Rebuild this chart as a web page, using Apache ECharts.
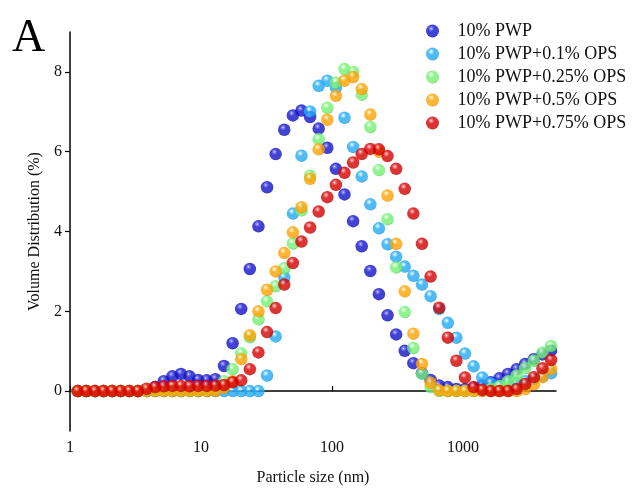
<!DOCTYPE html>
<html>
<head>
<meta charset="utf-8">
<script src="https://cdn.jsdelivr.net/npm/echarts@6/dist/echarts.min.js"></script>
<style>
  html, body { margin: 0; padding: 0; background: #fff; }
  #chart { width: 633px; height: 491px; }
</style>
</head>
<body>
<div id="chart"></div>
<script>
// particle size bins (nm)
const sizes = [1.145, 1.332, 1.550, 1.803, 2.097, 2.440, 2.838, 3.302, 3.841, 4.468,
  5.198, 6.046, 7.034, 8.183, 9.519, 11.07, 12.88, 14.99, 17.43, 20.28,
  23.59, 27.45, 31.93, 37.14, 43.21, 50.27, 58.48, 68.03, 79.14, 92.07,
  107.1, 124.6, 145.0, 168.6, 196.2, 228.2, 265.5, 308.9, 359.3, 418.0,
  486.3, 565.7, 658.1, 765.6, 890.6, 1036, 1205, 1402, 1631, 1897,
  2207, 2568, 2987, 3475, 4043, 4703];

// volume distribution (%)
const pwp = [0, 0, 0, 0, 0, 0, 0, 0, 0, 0.1,
  0.25, 0.37, 0.43, 0.37, 0.28, 0.27, 0.3, 0.63, 1.2, 2.06,
  3.06, 4.13, 5.11, 5.94, 6.55, 6.91, 7.03, 6.87, 6.58, 6.1,
  5.57, 4.93, 4.26, 3.63, 3.01, 2.43, 1.9, 1.42, 1.01, 0.7,
  0.45, 0.28, 0.14, 0.1, 0.05, 0.05, 0.08, 0.14, 0.22, 0.32,
  0.43, 0.55, 0.68, 0.8, 0.92, 1.02];
const ops01 = [0, 0, 0, 0, 0, 0, 0, 0, 0, 0,
  0, 0, 0, 0, 0, 0, 0, 0, 0, 0,
  0, 0, 0.39, 1.37, 2.85, 4.45, 5.9, 7.01, 7.65, 7.78,
  7.6, 6.85, 6.12, 5.38, 4.68, 4.08, 3.68, 3.37, 3.12, 2.89,
  2.67, 2.38, 2.06, 1.71, 1.34, 0.94, 0.62, 0.34, 0.19, 0.12,
  0.15, 0.2, 0.25, 0.3, 0.38, 0.45];
const ops025 = [0, 0, 0, 0, 0, 0, 0, 0, 0, 0,
  0, 0, 0, 0, 0, 0, 0.05, 0.25, 0.55, 0.95,
  1.35, 1.8, 2.25, 2.63, 3.08, 3.7, 4.53, 5.4, 6.31, 7.1,
  7.73, 8.07, 8.0, 7.43, 6.62, 5.54, 4.31, 3.1, 1.98, 1.08,
  0.43, 0.1, 0, 0, 0, 0, 0, 0, 0.05, 0.12,
  0.25, 0.39, 0.58, 0.76, 0.97, 1.13];
const ops05 = [0, 0, 0, 0, 0, 0, 0, 0, 0, 0,
  0, 0, 0, 0, 0, 0, 0, 0.08, 0.25, 0.8,
  1.4, 2.0, 2.54, 3.0, 3.46, 3.98, 4.61, 5.32, 6.06, 6.8,
  7.4, 7.78, 7.87, 7.57, 6.93, 6.0, 4.9, 3.69, 2.5, 1.44,
  0.68, 0.21, 0.02, 0, 0, 0, 0, 0, 0, 0,
  0, 0, 0.05, 0.17, 0.35, 0.55];
const ops075 = [0, 0, 0, 0, 0, 0, 0, 0, 0.06, 0.1,
  0.12, 0.13, 0.13, 0.12, 0.13, 0.13, 0.14, 0.15, 0.22, 0.27,
  0.55, 0.97, 1.48, 2.08, 2.67, 3.21, 3.75, 4.1, 4.5, 4.86,
  5.17, 5.47, 5.73, 5.94, 6.07, 6.06, 5.89, 5.57, 5.07, 4.45,
  3.69, 2.87, 2.09, 1.34, 0.76, 0.34, 0.1, 0.03, 0, 0,
  0, 0.05, 0.18, 0.35, 0.57, 0.78];

const seriesNames = ['10% PWP', '10% PWP+0.1% OPS', '10% PWP+0.25% OPS', '10% PWP+0.5% OPS', '10% PWP+0.75% OPS'];
const seriesValues = [pwp, ops01, ops025, ops05, ops075];
const yTicks = [0, 2, 4, 6, 8];

// [highlight, body, rim]
const palette = [
    ['#7070ff', '#1212c8', '#000088'],
    ['#b0e6ff', '#22aaf4', '#0a78c4'],
    ['#d0ffd0', '#74f074', '#3cc03c'],
    ['#ffe0a0', '#ffa200', '#d87c00'],
    ['#ff8080', '#d40000', '#8c0000']
];

const font = 'Liberation Serif, Times New Roman, serif';

const ball = (c) => ({
    type: 'radial', x: 0.4, y: 0.32, r: 0.7,
    colorStops: [
        { offset: 0, color: '#ffffff' },
        { offset: 0.1, color: c[0] },
        { offset: 0.35, color: c[1] },
        { offset: 0.85, color: c[1] },
        { offset: 1, color: c[2] }
    ]
});

const chart = echarts.init(document.getElementById('chart'), null, { renderer: 'canvas' });

const option = {
    animation: false,
    backgroundColor: '#fff',
    grid: { left: 70, right: 77, top: 32, bottom: 57 },
    graphic: [{
        type: 'text',
        left: 12,
        top: 16,
        style: { text: 'A', font: '46px ' + font, fill: '#000' }
    }],
    legend: {
        orient: 'vertical',
        left: 421,
        top: 17,
        itemWidth: 40,
        itemHeight: 13,
        itemGap: 5,
        textStyle: { fontFamily: font, fontSize: 18, color: '#111' },
        data: seriesNames
    },
    xAxis: {
        type: 'log',
        logBase: 10,
        min: 1,
        max: 5130,
        name: 'Particle size (nm)',
        nameLocation: 'middle',
        nameGap: 39,
        nameTextStyle: { fontFamily: font, fontSize: 16, color: '#111' },
        axisLine: { lineStyle: { color: '#000', width: 1.5 } },
        axisTick: { inside: true, length: 5, lineStyle: { color: '#000', width: 1.2 } },
        minorTick: { show: false },
        splitLine: { show: false },
        axisLabel: {
            margin: 9,
            showMaxLabel: false,
            fontFamily: font, fontSize: 16, color: '#111',
            formatter: (v) => String(Math.round(v))
        }
    },
    yAxis: {
        type: 'value',
        min: -1,
        max: 9,
        interval: 1,
        name: 'Volume Distribution (%)',
        nameLocation: 'middle',
        nameGap: 19,
        nameTextStyle: { fontFamily: font, fontSize: 16, color: '#111' },
        axisLine: { show: true, lineStyle: { color: '#000', width: 1.5 } },
        axisTick: { show: true, length: 5, customValues: yTicks, lineStyle: { color: '#000', width: 1.2 } },
        splitLine: { show: false },
        axisLabel: {
            margin: 8,
            customValues: yTicks,
            fontFamily: font, fontSize: 16, color: '#111'
        }
    },
    series: seriesNames.map((name, i) => ({
        name: name,
        type: 'scatter',
        symbol: 'circle',
        symbolSize: 12.5,
        itemStyle: { color: ball(palette[i]) },
        emphasis: { disabled: true },
        data: sizes.map((s, j) => [s, seriesValues[i][j]])
    }))
};

chart.setOption(option);
</script>
</body>
</html>
